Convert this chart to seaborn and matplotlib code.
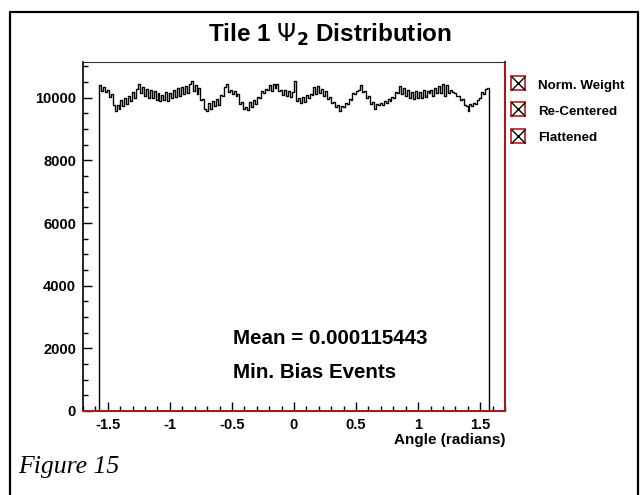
import numpy as np
import pandas as pd
import matplotlib
matplotlib.use("Agg")
import matplotlib.pyplot as plt
from matplotlib.lines import Line2D
from matplotlib.ticker import MultipleLocator
import seaborn as sns

# ---- data (counts per bin, 200 bins over [-pi/2, pi/2]) ----
counts = [
    10390, 10220, 10330, 10180, 10240, 10020, 10130, 9760, 9560, 9780,
    9650, 9930, 9720, 9980, 9800, 10060, 9880, 10170, 10000, 10280,
    10440, 10150, 10350, 10060, 10290, 9990, 10260, 9980, 10230, 9920,
    10150, 9880, 10100, 9930, 10180, 9900, 10160, 9990, 10240, 10030,
    10310, 10070, 10350, 10110, 10380, 10150, 10440, 10520, 10200, 10400,
    10120, 10300, 9930, 9960, 9640, 9580, 9820, 9630, 9900, 9730,
    9960, 9780, 10080, 10050, 10330, 10450, 10190, 10260, 10130, 10220,
    10040, 10110, 9800, 9850, 9640, 9700, 9620, 9860, 9700, 9930,
    9790, 10020, 9990, 10200, 10150, 10280, 10250, 10400, 10210, 10450,
    10300, 10440, 10200, 10250, 10080, 10260, 10040, 10230, 10030, 10180,
    10530, 9900, 9980, 9830, 10020, 9870, 10080, 9990, 10120, 10080,
    10340, 10130, 10360, 10140, 10280, 10060, 10220, 9950, 10030, 9830,
    9870, 9690, 9760, 9590, 9750, 9700, 9840, 9810, 9950, 9940,
    10160, 10120, 10220, 10260, 10420, 10170, 10200, 9990, 10060, 9800,
    9850, 9650, 9790, 9760, 9840, 9780, 9880, 9830, 9950, 9900,
    10020, 9980, 10190, 10150, 10380, 10120, 10300, 10060, 10250, 10000,
    10190, 9960, 10220, 10000, 10180, 9980, 10240, 10030, 10220, 10140,
    10250, 10060, 10320, 10150, 10370, 10160, 10430, 10040, 10420, 10160,
    10250, 10180, 10150, 10050, 10060, 9930, 9960, 9770, 9750, 9570,
    9800, 9720, 9840, 9790, 9920, 9980, 10170, 10130, 10280, 10300,
]
range_lo, range_hi = -np.pi / 2, np.pi / 2

xticks = [-1.5, -1.0, -0.5, 0.0, 0.5, 1.0, 1.5]
xtick_labels = ["-1.5", "-1", "-0.5", "0", "0.5", "1", "1.5"]
yticks = [0, 2000, 4000, 6000, 8000, 10000]
ytick_labels = ["0", "2000", "4000", "6000", "8000", "10000"]
legend_labels = ["Norm. Weight", "Re-Centered", "Flattened"]

title_text = r"Tile 1 $\Psi_{\mathbf{2}}$ Distribution"
xlabel_text = "Angle (radians)"
mean_text = "Mean = 0.000115443"
events_text = "Min. Bias Events"
caption_text = "Figure 15"

edges = np.linspace(range_lo, range_hi, len(counts) + 1)
centers = 0.5 * (edges[:-1] + edges[1:])
df = pd.DataFrame({"angle": centers, "count": counts})

# ---- style ----
sns.set_style("white")
plt.rcParams["font.family"] = ["Liberation Sans", "DejaVu Sans"]
plt.rcParams.update({"text.color": "black", "axes.labelcolor": "black",
                     "xtick.color": "black", "ytick.color": "black"})

W, H = 643, 495
fig = plt.figure(figsize=(W / 100, H / 100), dpi=100)
fig.patch.set_facecolor("white")

def fx(px):
    return px / W

def fy(py):
    return 1 - py / H

ax_l, ax_r, ax_t, ax_b = 83, 505, 62, 411
ax = fig.add_axes([fx(ax_l), fy(ax_b), (ax_r - ax_l) / W, (ax_b - ax_t) / H])

sns.histplot(data=df, x="angle", weights="count", bins=list(edges), element="step",
             fill=True, color="black", facecolor="none", edgecolor="black",
             linewidth=1.0, ax=ax)

ax.set_xlim(-1.7, 1.7)
ax.set_ylim(0, 11140)
ax.set_xticks(xticks)
ax.set_xticklabels(xtick_labels)
ax.set_yticks(yticks)
ax.set_yticklabels(ytick_labels)
ax.xaxis.set_minor_locator(MultipleLocator(0.1))
ax.yaxis.set_minor_locator(MultipleLocator(500))
ax.tick_params(which="both", direction="in", bottom=True, left=True, top=False,
               right=False, color="black", width=1.0)
ax.tick_params(which="major", length=6.5, labelsize=10.5, pad=5)
ax.tick_params(which="minor", length=3.3)
for lbl in ax.get_xticklabels() + ax.get_yticklabels():
    lbl.set_fontweight("bold")
    lbl.set_color("black")

ax.set_ylabel("")
ax.set_xlabel(xlabel_text, loc="right", fontsize=11, fontweight="bold",
              labelpad=1, color="black")

red = "#a31a1a"
ax.spines["left"].set_color("black")
ax.spines["left"].set_linewidth(1.2)
ax.spines["top"].set_color("#333333")
ax.spines["top"].set_linewidth(0.8)
ax.spines["right"].set_color(red)
ax.spines["right"].set_linewidth(1.5)
ax.spines["bottom"].set_color(red)
ax.spines["bottom"].set_linewidth(1.5)

# ---- legend (box with X icons) ----
handles = []
for lab in legend_labels:
    sq = Line2D([], [], linestyle="none", marker="s", markersize=10.5,
                markerfacecolor="none", markeredgecolor="#c43a3a", markeredgewidth=1.4)
    xm = Line2D([], [], linestyle="none", marker="x", markersize=10.5,
                markeredgecolor="black", markeredgewidth=1.0)
    handles.append((sq, xm))
fig.legend(handles, legend_labels, loc="upper left",
           bbox_to_anchor=(fx(510), fy(78)), bbox_transform=fig.transFigure,
           frameon=False, borderpad=0, borderaxespad=0, handlelength=1.2,
           handleheight=1.0, handletextpad=0.9, labelspacing=0.95,
           prop={"size": 9.6, "weight": "bold"})

# ---- texts ----
fig.text(fx(330), fy(35), title_text, ha="center", va="center",
         fontsize=17.5, fontweight="bold")
fig.text(fx(233), fy(338), mean_text, ha="left", va="center",
         fontsize=14.8, fontweight="bold")
fig.text(fx(233), fy(372), events_text, ha="left", va="center",
         fontsize=14.8, fontweight="bold")
fig.text(fx(18), fy(467), caption_text, ha="left", va="center",
         fontsize=18.5, fontstyle="italic", family=["Liberation Serif", "DejaVu Serif"])

# ---- outer page frame ----
fig.add_artist(Line2D([fx(10), fx(10), fx(638), fx(638)], [0, fy(12), fy(12), 0],
                      transform=fig.transFigure, color="black", linewidth=1.6))

fig.savefig("out.png", dpi=100)
